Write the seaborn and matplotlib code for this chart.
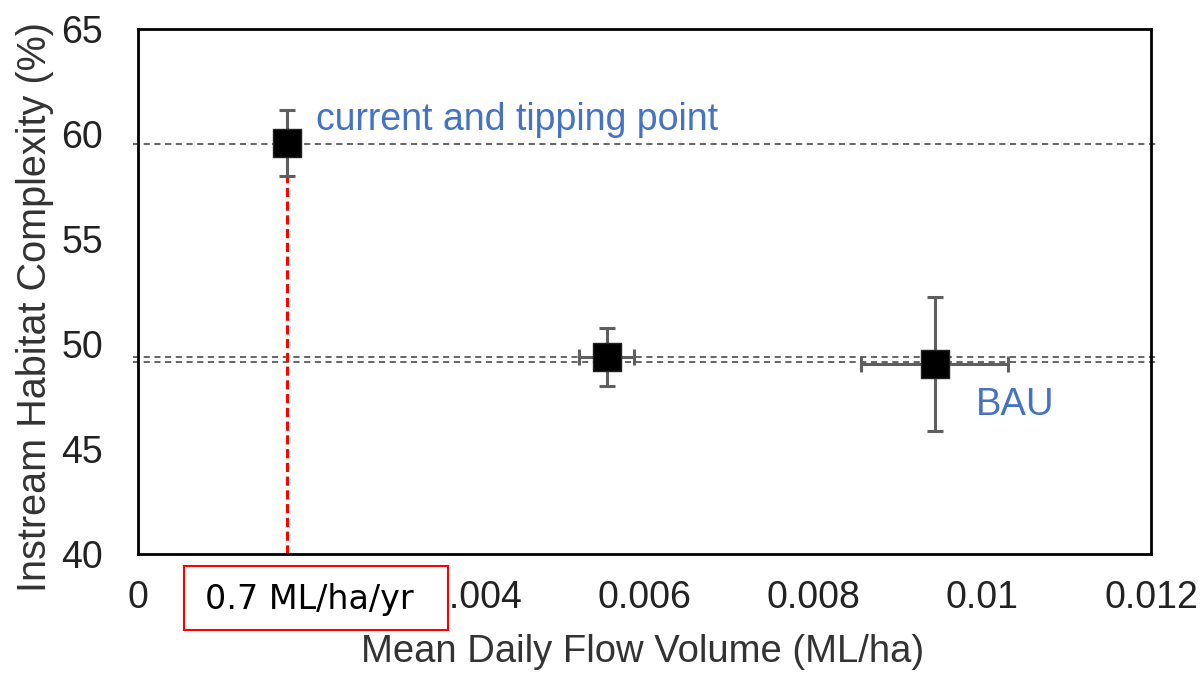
import matplotlib
matplotlib.use("Agg")
import matplotlib.pyplot as plt
from matplotlib.patches import Rectangle
import seaborn as sns
import pandas as pd

# data
flow = [0.00177, 0.00555, 0.00944]
complexity = [59.57, 49.38, 49.05]
flow_err = [0.0, 0.00032, 0.00087]
complexity_err = [1.55, 1.38, 3.2]
ref_lines = [59.52, 49.38, 49.14]
x_ticks = [0, 0.002, 0.004, 0.006, 0.008, 0.01, 0.012]
x_tick_labels = ["0", "0.002", "0.004", "0.006", "0.008", "0.01", "0.012"]
y_ticks = [40, 45, 50, 55, 60, 65]
tipping_label = "0.7 ML/ha/yr"
annot_current = "current and tipping point"
annot_bau = "BAU"

df = pd.DataFrame({"flow": flow, "complexity": complexity})

sns.set_style("white")
plt.rcParams["font.family"] = ["Liberation Sans", "DejaVu Sans"]

W, H = 1204, 678
fig = plt.figure(figsize=(W / 100, H / 100), dpi=100)
ax = fig.add_axes([138 / W, (H - 554) / H, 1013 / W, 525 / H])

for yv in ref_lines:
    ax.axhline(yv, xmin=-0.005, xmax=1.006, color="#3a3a3a", linestyle=(0, (4, 3)),
               linewidth=1.1, zorder=1, clip_on=False)

# red vertical dashed line from bottom to the tipping point
ax.plot([flow[0], flow[0]], [40, complexity[0]], color="#ff0000",
        linestyle=(0, (3, 1.5)), linewidth=2.2, zorder=2)

ax.errorbar(flow, complexity, xerr=flow_err, yerr=complexity_err, fmt="none",
            ecolor="#5f5f5f", elinewidth=2.2, capsize=6, capthick=2.2, zorder=3)

sns.scatterplot(data=df, x="flow", y="complexity", marker="s", s=430,
                color="black", edgecolor="#222222", linewidth=1, ax=ax, zorder=4)

ax.set_xlim(0, 0.012)
ax.set_ylim(40, 65)
ax.set_xticks(x_ticks)
ax.set_xticklabels(x_tick_labels)
ax.set_yticks(y_ticks)
ax.tick_params(axis="both", labelsize=27, colors="#222222", length=0)
ax.tick_params(axis="x", pad=19)
ax.tick_params(axis="y", pad=25)
for s in ax.spines.values():
    s.set_color("black")
    s.set_linewidth(2)
    s.set_visible(True)

ax.set_xlabel("")
ax.set_ylabel("")
fig.text(643 / W, 1 - 652 / H, "Mean Daily Flow Volume (ML/ha)", fontsize=27.5,
         color="#333333", ha="center", va="center")
fig.text(35 / W, 1 - 307 / H, "Instream Habitat Complexity (%)", rotation=90,
         fontsize=28.5, color="#333333", ha="center", va="center")

ax.text(0.00211, 60.67, annot_current, fontsize=27, color="#4472c4", va="center", ha="left")
ax.text(0.00993, 47.1, annot_bau, fontsize=27.5, color="#4472c4", va="center", ha="left")

# red-boxed label covering the 0.002 tick label
fig.add_artist(Rectangle((184 / W, (H - 630) / H), 264 / W, 64 / H, transform=fig.transFigure,
                         facecolor="white", edgecolor="#ff0000", linewidth=1.5, zorder=10))
fig.text(205 / W, 1 - 599 / H, tipping_label, fontsize=24, color="black", ha="left",
         va="center", family=["DejaVu Sans"], zorder=11)

fig.savefig("out.png", dpi=100)
